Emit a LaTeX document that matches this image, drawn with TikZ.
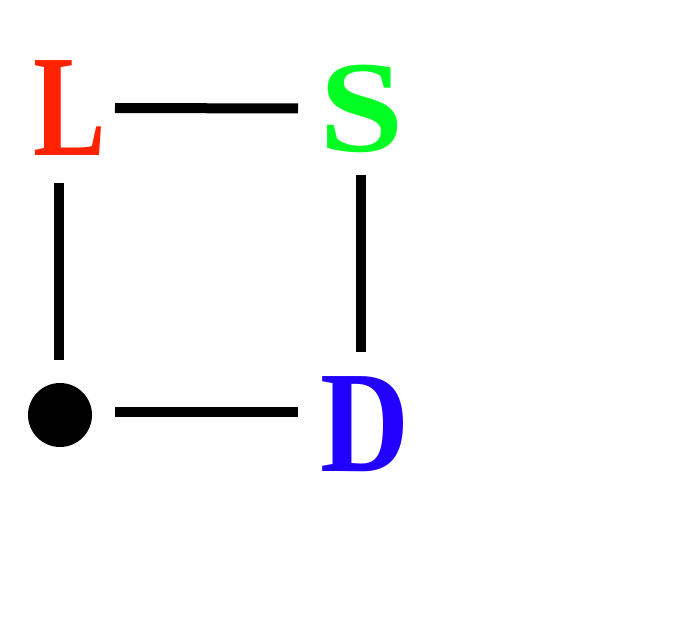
\documentclass[tikz,border=0pt]{standalone}
\usepackage{fontspec}
\setmainfont{Liberation Serif}
\usetikzlibrary{calc}
\definecolor{cL}{RGB}{255,34,0}
\definecolor{cS}{RGB}{0,255,34}
\definecolor{cD}{RGB}{34,0,255}
\begin{document}
\begin{tikzpicture}[x=1pt,y=-1pt,
  letter/.style={inner sep=0pt,anchor=center,font=\fontsize{145}{145}\selectfont\bfseries},
  link/.style={line width=10pt,black}]
\useasboundingbox (0,0) rectangle (687,631);
\node[letter,text=cL,xscale=0.75] (L) at (69.5,108) {L};
\node[letter,text=cS,xscale=1.05,yscale=0.9] (S) at (362,108.5) {S};
\node[letter,text=cD,xscale=0.85] (D) at (364.5,424) {D};
\node[circle,fill=black,minimum size=64pt,inner sep=0pt] (dot) at (60,415) {};
\draw[link] ($(L.center)+(45.5,0)$) -- ($(S.center)+(-64,0)$);
\draw[link] ($(L.center)+(-10.5,75)$) -- ($(dot.center)+(-1,-55)$);
\draw[link] ($(S.center)+(-1,66.5)$) -- ($(D.center)+(-3.5,-72)$);
\draw[link] ($(dot.center)+(55,-3)$) -- ($(D.center)+(-66.5,-12)$);
\end{tikzpicture}
\end{document}
